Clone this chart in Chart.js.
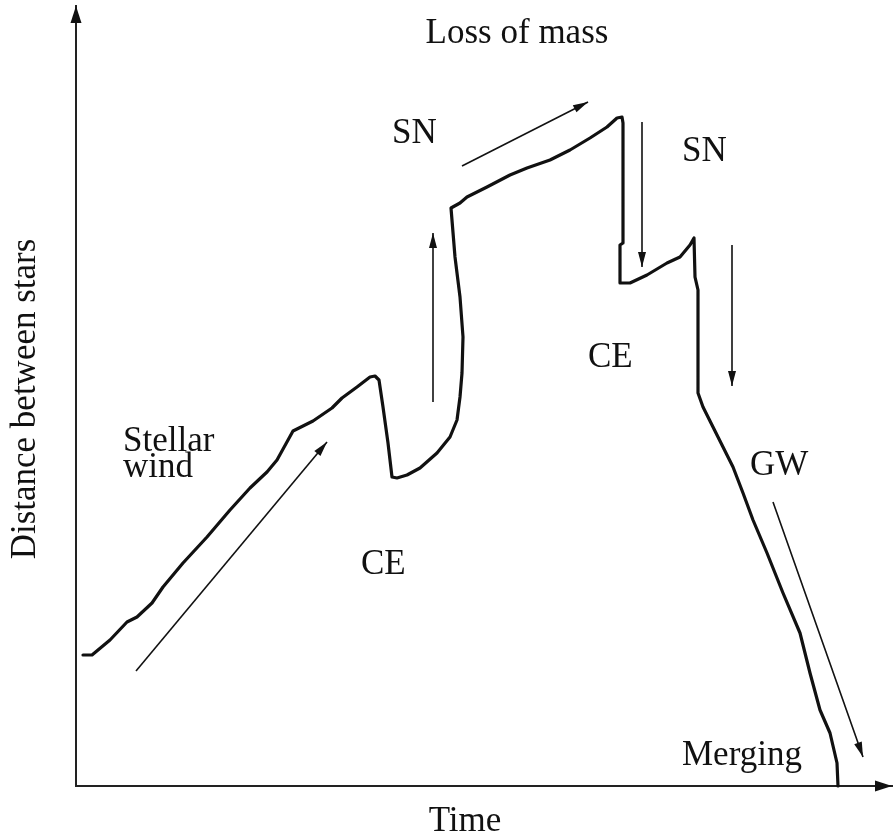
<!DOCTYPE html>
<html lang="en">
<head>
  <meta charset="UTF-8" />
  <title>Distance between stars over time</title>
  <script src="https://cdn.jsdelivr.net/npm/chart.js"></script>
  <style>
    body { margin: 0; background: #fff; }
    #wrap { width: 893px; height: 840px; }
  </style>
</head>
<body>
  <div id="wrap"><canvas id="evoChart"></canvas></div>

  <script>
    // orbit evolution: time (x) vs separation (y), arbitrary units
    const timeVals = [7, 16, 34, 51, 61, 76, 87, 107, 131, 154, 174, 191, 201, 217, 237, 256, 266, 281, 294, 299,
      303, 307, 312, 316, 321, 331, 344, 361, 374, 381, 384, 386, 387, 384, 379, 375,
      384, 391, 411, 434, 451, 474, 494, 514, 531, 541, 546, 547, 547, 544, 544,
      554, 571, 591, 604, 614, 618, 619, 622, 622, 627, 637, 647, 657, 667, 677,
      691, 707, 724, 734, 744, 754, 761, 762];
    const distVals = [131, 131, 146, 164, 169, 183, 199, 223, 249, 276, 298, 314, 326, 355, 365, 378, 388, 399, 409, 410,
      406, 379, 343, 309, 308, 311, 318, 333, 349, 366, 389, 413, 449, 489, 529, 578,
      583, 589, 599, 611, 618, 626, 636, 648, 659, 668, 669, 663, 543, 541, 503,
      503, 511, 523, 529, 541, 548, 509, 496, 393, 379, 359, 339, 319, 293, 266,
      233, 193, 153, 113, 76, 53, 23, 0];

    // arrows: [fromT, fromD, toT, toD]
    const arrows = [
      [60, 115, 251, 344],
      [357, 384, 357, 553],
      [386, 620, 512, 684],
      [566, 664, 566, 519],
      [656, 541, 656, 400],
      [697, 284, 787, 29]
    ];

    // annotations
    const noteText = ['Loss of mass', 'SN', 'SN', 'CE', 'CE', 'Stellar', 'wind', 'GW', 'Merging'];
    const noteT = [441, 316, 606, 512, 285, 47, 47, 674, 606];
    const noteD = [743, 643, 625, 419, 212, 335, 309, 311, 21];
    const noteAlign = ['center', 'left', 'left', 'left', 'left', 'left', 'left', 'left', 'left'];

    const xTitle = 'Time';
    const yTitle = 'Distance between stars';

    const ink = '#111';

    function arrowHead(ctx, x1, y1, x2, y2, len, half) {
      const a = Math.atan2(y2 - y1, x2 - x1);
      ctx.beginPath();
      ctx.moveTo(x2, y2);
      ctx.lineTo(x2 - len * Math.cos(a) + half * Math.sin(a), y2 - len * Math.sin(a) - half * Math.cos(a));
      ctx.lineTo(x2 - len * Math.cos(a) - half * Math.sin(a), y2 - len * Math.sin(a) + half * Math.cos(a));
      ctx.closePath();
      ctx.fill();
    }

    const sketchPlugin = {
      id: 'sketch',
      afterDatasetsDraw(chart) {
        const ctx = chart.ctx;
        const xs = chart.scales.x, ys = chart.scales.y;
        ctx.save();
        ctx.fillStyle = ink;

        // axis arrow tips
        const x0 = xs.getPixelForValue(0), y0 = ys.getPixelForValue(0);
        arrowHead(ctx, x0, y0, x0, ys.getPixelForValue(ys.max), 17, 5.5);
        arrowHead(ctx, x0, y0, xs.getPixelForValue(xs.max), y0, 17, 5.5);

        // annotation arrow tips
        chart.data.datasets.forEach((ds, i) => {
          if (!ds.isArrow) return;
          const pts = chart.getDatasetMeta(i).data;
          arrowHead(ctx, pts[0].x, pts[0].y, pts[1].x, pts[1].y, 15, 4);
        });

        // text
        ctx.font = '35px "Liberation Serif", "Times New Roman", serif';
        ctx.textBaseline = 'alphabetic';
        noteText.forEach((t, i) => {
          ctx.textAlign = noteAlign[i];
          ctx.fillText(t, xs.getPixelForValue(noteT[i]), ys.getPixelForValue(noteD[i]));
        });

        ctx.textAlign = 'center';
        ctx.fillText(xTitle, xs.getPixelForValue(389), 831);
        ctx.translate(35, ys.getPixelForValue(387));
        ctx.rotate(-Math.PI / 2);
        ctx.fillText(yTitle, 0, 0);
        ctx.restore();
      }
    };

    const datasets = [{
      label: 'separation',
      data: timeVals.map((t, i) => ({ x: t, y: distVals[i] })),
      showLine: true,
      borderColor: ink,
      borderWidth: 3.2,
      pointRadius: 0,
      tension: 0,
      borderJoinStyle: 'round',
      borderCapStyle: 'round',
      clip: false
    }];
    arrows.forEach(a => {
      datasets.push({
        isArrow: true,
        data: [{ x: a[0], y: a[1] }, { x: a[2], y: a[3] }],
        showLine: true,
        borderColor: ink,
        borderWidth: 1.6,
        pointRadius: 0,
        clip: false
      });
    });

    new Chart(document.getElementById('evoChart'), {
      type: 'scatter',
      data: { datasets },
      options: {
        responsive: true,
        maintainAspectRatio: false,
        animation: false,
        layout: { padding: { left: 76, right: 1, top: 6, bottom: 54 } },
        plugins: { legend: { display: false }, tooltip: { enabled: false } },
        scales: {
          x: {
            type: 'linear', min: 0, max: 816,
            grid: { display: false, drawTicks: false },
            ticks: { display: false },
            border: { display: true, color: '#222', width: 2 }
          },
          y: {
            type: 'linear', min: 0, max: 780,
            grid: { display: false, drawTicks: false },
            ticks: { display: false },
            border: { display: true, color: '#222', width: 2 }
          }
        }
      },
      plugins: [sketchPlugin]
    });
  </script>
</body>
</html>
